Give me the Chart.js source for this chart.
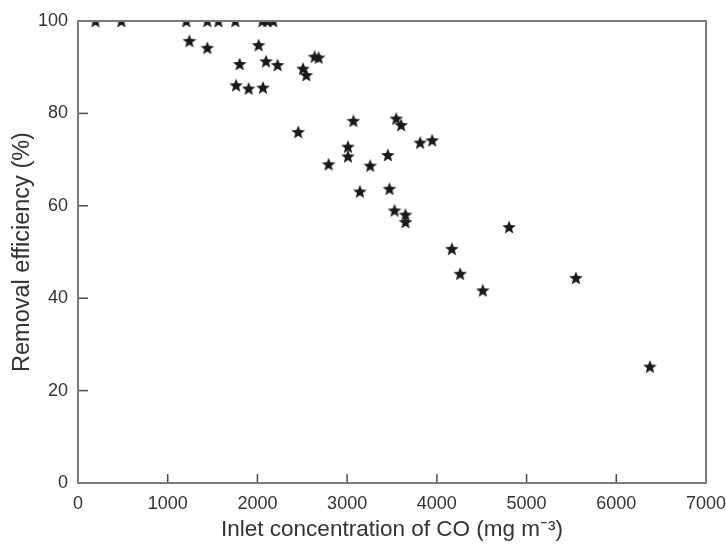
<!DOCTYPE html>
<html>
<head>
<meta charset="utf-8">
<script src="https://cdn.jsdelivr.net/npm/chart.js@4.4.1/dist/chart.umd.min.js"></script>
<style>
  body { margin: 0; background: #fff; }
</style>
</head>
<body>
<canvas id="chart" width="726" height="545"></canvas>
<script>
// inlet CO concentration (mg m-3) and removal efficiency (%)
const concentration = [
  195, 484, 1208, 1442, 1565, 1754, 2055, 2110, 2177,
  1242, 1442, 2013, 1802, 2096, 2225, 1762, 1902, 2062,
  2508, 2545, 2637, 2682, 2455, 2793, 3009, 3009, 3070,
  3142, 3547, 3602, 3814, 3948, 3257, 3454, 3472, 3528,
  3650, 3650, 4805, 4167, 4260, 4512, 5550, 6375
];
const efficiency = [
  100, 100, 100, 100, 100, 100, 100, 100, 100,
  95.7, 94.2, 94.8, 90.7, 91.3, 90.5, 86.1, 85.4, 85.6,
  89.7, 88.3, 92.3, 92.1, 76.0, 69.0, 72.8, 70.7, 78.4,
  63.1, 78.9, 77.5, 73.7, 74.2, 68.7, 71.0, 63.7, 59.0,
  58.1, 56.5, 55.4, 50.7, 45.3, 41.7, 44.4, 25.2
];
const xTicks = [0, 1000, 2000, 3000, 4000, 5000, 6000, 7000];
const yTicks = [0, 20, 40, 60, 80, 100];

const points = concentration.map((c, i) => ({ x: c, y: efficiency[i] }));

// filled five-point star used as marker
function makeStar() {
  const c = document.createElement("canvas");
  c.width = 16;
  c.height = 16;
  const g = c.getContext("2d");
  g.fillStyle = "#1a1a1a";
  g.beginPath();
  for (let k = 0; k < 10; k++) {
    const r = k % 2 === 0 ? 7.2 : 3.1;
    const a = -Math.PI / 2 + k * Math.PI / 5;
    const px = 8 + r * Math.cos(a);
    const py = 8.6 + r * Math.sin(a);
    if (k === 0) g.moveTo(px, py); else g.lineTo(px, py);
  }
  g.closePath();
  g.fill();
  return c;
}

// box frame and inward tick marks
const frame = {
  id: "frame",
  afterDraw(ch) {
    const { ctx, chartArea: a, scales } = ch;
    ctx.save();
    ctx.strokeStyle = "#4a4a4a";
    ctx.lineWidth = 1.5;
    xTicks.slice(1, -1).forEach(v => {
      const px = scales.x.getPixelForValue(v);
      ctx.beginPath();
      ctx.moveTo(px, a.bottom);
      ctx.lineTo(px, a.bottom - 9);
      ctx.stroke();
    });
    yTicks.slice(1, -1).forEach(v => {
      const py = scales.y.getPixelForValue(v);
      ctx.beginPath();
      ctx.moveTo(a.left, py);
      ctx.lineTo(a.left + 10, py);
      ctx.stroke();
    });
    ctx.strokeStyle = "#7a7a7a";
    ctx.lineWidth = 2;
    ctx.strokeRect(a.left, a.top, a.right - a.left, a.bottom - a.top);
    ctx.restore();
  }
};

const tickFont = { family: "'Liberation Sans', Arial, sans-serif", size: 18 };

new Chart(document.getElementById("chart"), {
  type: "scatter",
  data: {
    datasets: [{
      data: points,
      pointStyle: makeStar(),
      clip: 0
    }]
  },
  options: {
    responsive: false,
    animation: false,
    layout: { padding: { top: 21, right: 0, left: 0, bottom: 0 } },
    plugins: { legend: { display: false }, tooltip: { enabled: false } },
    scales: {
      x: {
        type: "linear",
        min: 0,
        max: 7000,
        afterFit: s => { s.height = 62; s.paddingRight = 20; },
        grid: { display: false, drawTicks: false },
        border: { display: false },
        ticks: {
          stepSize: 1000,
          color: "#333",
          font: tickFont,
          padding: 10,
          maxRotation: 0,
          callback: v => String(v)
        },
        title: {
          display: true,
          text: "Inlet concentration of CO (mg m\u207B\u00B3)",
          color: "#333",
          font: { family: "'Liberation Sans', Arial, sans-serif", size: 22.5 },
          padding: { bottom: 2 }
        }
      },
      y: {
        min: 0,
        max: 100,
        afterFit: s => { s.width = 78; },
        grid: { display: false, drawTicks: false },
        border: { display: false },
        ticks: { stepSize: 20, color: "#333", font: tickFont, padding: 10 },
        title: {
          display: true,
          text: "Removal efficiency (%)",
          color: "#333",
          font: { family: "'Liberation Sans', Arial, sans-serif", size: 23.5 },
          padding: { top: 8 }
        }
      }
    }
  },
  plugins: [frame]
});
</script>
</body>
</html>
